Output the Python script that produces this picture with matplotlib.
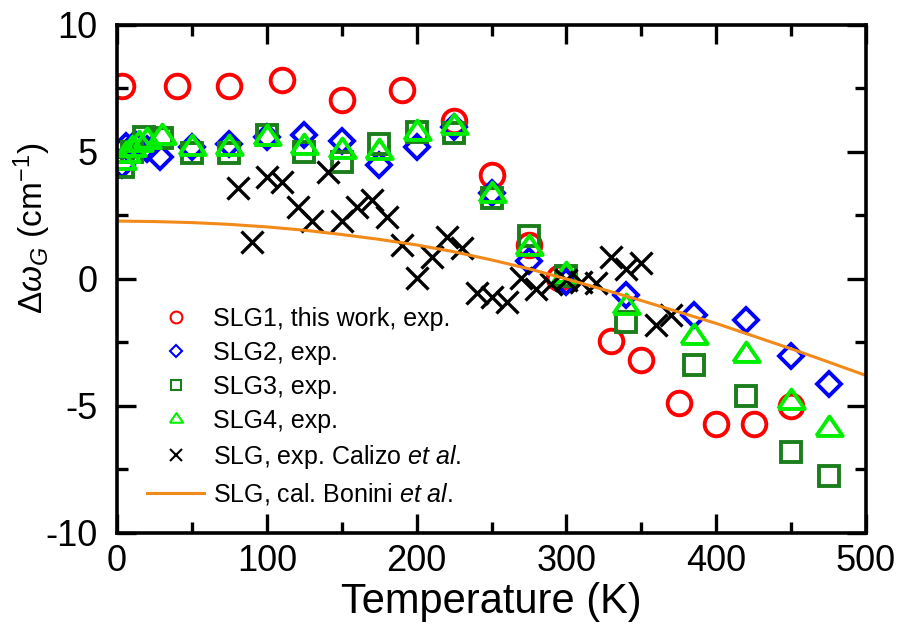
import matplotlib
matplotlib.use('Agg')
import matplotlib.pyplot as plt
from matplotlib.ticker import MultipleLocator

plt.rcParams['font.family'] = ['Liberation Sans', 'DejaVu Sans']
plt.rcParams['mathtext.fontset'] = 'custom'
plt.rcParams['mathtext.rm'] = 'Liberation Sans'
plt.rcParams['mathtext.it'] = 'Liberation Sans:italic'
plt.rcParams['axes.unicode_minus'] = False

# SLG1, this work
t1 = [3, 40, 75, 110, 150, 190, 225, 250, 275, 295, 330, 350, 375, 400, 425, 450]
w1 = [7.6, 7.6, 7.6, 7.85, 7.05, 7.45, 6.2, 4.1, 1.35, 0.05, -2.45, -3.2, -4.9, -5.7, -5.7, -5.0]

# SLG2
t2 = [3, 6, 12, 20, 29, 50, 75, 100, 125, 150, 175, 200, 225, 250, 275, 300, 340, 385, 420, 450, 475]
w2 = [4.5, 5.25, 5.3, 5.1, 4.8, 5.2, 5.3, 5.6, 5.65, 5.45, 4.5, 5.2, 6.0, 3.4, 0.7, -0.1,
      -0.65, -1.4, -1.6, -3.05, -4.15]

# SLG3
t3 = [4, 10, 18, 30, 50, 75, 100, 125, 150, 175, 200, 225, 250, 275, 300, 340, 385, 420, 450, 475]
w3 = [4.4, 5.0, 5.6, 5.55, 4.95, 4.95, 5.65, 5.0, 4.6, 5.3, 5.8, 5.75, 3.2, 1.7, 0.1,
      -1.7, -3.4, -4.6, -6.8, -7.75]

# SLG4
t4 = [3, 6, 10, 15, 20, 30, 50, 75, 100, 125, 150, 175, 200, 225, 250, 275, 300, 340, 385, 420, 450, 475]
w4 = [4.6, 4.9, 5.1, 5.3, 5.45, 5.6, 5.15, 5.15, 5.55, 5.2, 5.05, 5.0, 5.75, 6.0, 3.3, 1.2, 0.15,
      -1.1, -2.3, -3.0, -4.85, -5.9]

# Calizo et al.
tc = [81, 90, 100, 110, 121, 130, 141, 150, 160, 170, 180, 190, 200, 210, 220, 230, 240, 250,
      260, 270, 280, 290, 300, 310, 320, 330, 340, 350, 360, 370]
wc = [3.6, 1.45, 4.0, 3.8, 2.85, 2.3, 4.2, 2.3, 2.85, 3.1, 2.45, 1.35, 0.04, 0.85, 1.65, 1.2,
      -0.55, -0.7, -0.9, 0.05, -0.4, -0.2, -0.05, -0.12, -0.15, 0.85, 0.4, 0.63, -1.8, -1.4]

# Bonini et al. calculation
tb = [0, 25, 50, 75, 100, 125, 150, 175, 200, 225, 250, 275, 300, 325, 350, 375, 400, 425, 450, 475, 500]
wb = [2.28, 2.26, 2.22, 2.15, 2.05, 1.92, 1.75, 1.56, 1.34, 1.07, 0.75, 0.4, 0.0, -0.42, -0.85,
      -1.3, -1.75, -2.25, -2.75, -3.27, -3.8]

tri = [(-1, -0.49), (1, -0.49), (0, 0.98), (-1, -0.49)]

fig = plt.figure(figsize=(8.98, 6.37), dpi=100)
ax = fig.add_axes([0.1303, 0.1633, 0.8341, 0.7975])

ax.plot(t1, w1, 'o', ms=17, mfc='none', mec='#ff0000', mew=2.8, label='SLG1, this work, exp.')
ax.plot(t2, w2, 'D', ms=12, mfc='none', mec='#0000ff', mew=2.8, label='SLG2, exp.')
ax.plot(t3, w3, 's', ms=14, mfc='none', mec='#1b7d1b', mew=2.8, label='SLG3, exp.')
ax.plot(t4, w4, marker=tri, ls='none', ms=19, mfc='none', mec='#00ee00', mew=2.8, label='SLG4, exp.')
ax.plot(tc, wc, 'x', ms=16, mec='black', mew=2.4, label=r'SLG, exp. Calizo $\it{et\ al.}$')
ax.plot(tb, wb, '-', color='#f28a1a', lw=2.2, label=r'SLG, cal. Bonini $\it{et\ al.}$')

ax.set_xlim(0, 500)
ax.set_ylim(-10, 10)
ax.xaxis.set_major_locator(MultipleLocator(100))
ax.xaxis.set_minor_locator(MultipleLocator(50))
ax.yaxis.set_major_locator(MultipleLocator(5))
ax.yaxis.set_minor_locator(MultipleLocator(2.5))
ax.tick_params(which='both', direction='in', top=True, right=True, width=2.4, labelsize=26)
ax.tick_params(which='major', length=14)
ax.tick_params(which='minor', length=8)
ax.tick_params(axis='y', pad=14)
ax.tick_params(axis='x', pad=8)
for s in ax.spines.values():
    s.set_linewidth(2.6)

ax.set_xlabel('Temperature (K)', fontsize=30, labelpad=2)
ax.set_ylabel(r'$\Delta\omega_G$ (cm$^{-1}$)', fontsize=24)
ax.yaxis.set_label_coords(-0.085, 0.60)

leg = ax.legend(loc='upper left', bbox_to_anchor=(0.04, 0.445), frameon=False, fontsize=18,
                borderpad=0, borderaxespad=0, handlelength=2.3, handletextpad=0.35,
                labelspacing=0.4, numpoints=1)
for h in leg.legend_handles:
    if h.get_marker() not in (None, 'None', ''):
        h.set_markersize(h.get_markersize() * 0.5)
        h.set_markeredgewidth(1.5)

fig.savefig('out.png', dpi=100)
